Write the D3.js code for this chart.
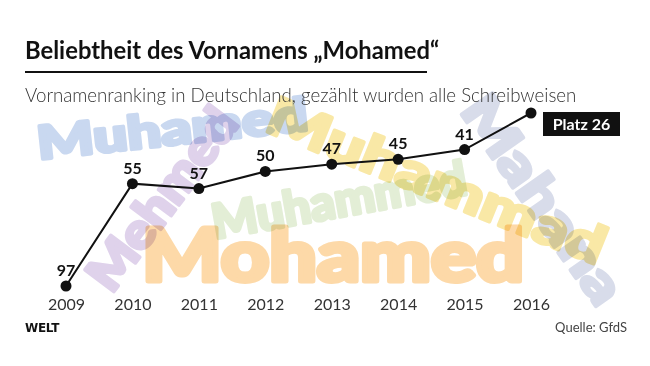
<!DOCTYPE html>
<html><head><meta charset="utf-8">
<script src="https://cdn.jsdelivr.net/npm/d3@7/dist/d3.min.js"></script>
<style>
html,body{margin:0;padding:0;background:#fff;}
svg{display:block;}
</style></head>
<body>
<script>
const years = [2009, 2010, 2011, 2012, 2013, 2014, 2015, 2016];
const ranks = [97, 55, 57, 50, 47, 45, 41, 26];
const labels = ["97", "55", "57", "50", "47", "45", "41", "Platz 26"];
const bgWords = ["Muhamed", "Mehmed", "Muhammad", "Muhammed", "Mahana", "Mohamed"];

const W = 650, H = 366;
const svg = d3.select("body").append("svg").attr("width", W).attr("height", H);

// decorative background words (position/style)
const wordStyle = [
  {x: 37, y: 143, a: -6.2, fs: 46, len: 272, c: "#c9d8f0", sw: 3.5},
  {x: 97, y: 284, a: -53, fs: 50, len: 214, c: "#dfd2eb", sw: 3.5},
  {x: 270, y: 113, a: 22, fs: 52, len: 360, c: "#f9e8a6", sw: 3.5},
  {x: 212, y: 222, a: -10, fs: 48, len: 258, c: "#e3eed6", sw: 3.5},
  {x: 474, y: 100, a: 55, fs: 52, len: 242, c: "#d8dcea", sw: 3.5},
  {x: 142, y: 255, a: 0, fs: 73, len: 382, c: "#fdd9a8", sw: 5}
];
const bg = svg.append("g");
bgWords.forEach((w, i) => {
  const s = wordStyle[i];
  bg.append("text")
    .attr("transform", `translate(${s.x},${s.y}) rotate(${s.a})`)
    .attr("x", 0).attr("y", s.fs * 0.36)
    .attr("font-family", "Lato, 'Open Sans', sans-serif")
    .attr("font-weight", 900)
    .attr("font-size", s.fs)
    .attr("textLength", s.len)
    .attr("lengthAdjust", "spacingAndGlyphs")
    .attr("fill", s.c)
    .attr("stroke", s.c).attr("stroke-width", s.sw).attr("stroke-linejoin", "round")
    .style("mix-blend-mode", "multiply")
    .text(w);
});

// title
svg.append("text").attr("x", 25).attr("y", 59)
  .attr("font-family", "Lato, sans-serif").attr("font-weight", 700)
  .attr("font-size", 23.8).attr("fill", "#111")
  .text("Beliebtheit des Vornamens „Mohamed“");
svg.append("rect").attr("x", 25).attr("y", 71).attr("width", 402).attr("height", 2).attr("fill", "#111");
svg.append("text").attr("x", 25).attr("y", 102)
  .attr("font-family", "Lato, sans-serif").attr("font-weight", 300)
  .attr("font-size", 18.7).attr("fill", "#333")
  .text("Vornamenranking in Deutschland, gezählt wurden alle Schreibweisen");

const x = d3.scalePoint().domain(years).range([66, 531]);
const y = d3.scaleLinear().domain([26, 97]).range([113, 286]);

const data = years.map((yr, i) => ({yr, r: ranks[i], l: labels[i]}));

// x axis labels
const xAxis = d3.axisBottom(x).tickSize(0).tickPadding(0);
const ax = svg.append("g").attr("transform", "translate(0,305)").call(xAxis);
ax.select(".domain").remove();
ax.selectAll("text").attr("font-family", "Lato, sans-serif").attr("font-size", 16)
  .attr("font-weight", 400)
  .attr("fill", "#333").attr("dy", "0.71em").attr("y", -6);

// line
svg.append("path").datum(data)
  .attr("d", d3.line().x(d => x(d.yr)).y(d => y(d.r)))
  .attr("fill", "none").attr("stroke", "#111").attr("stroke-width", 2);

svg.selectAll("circle.pt").data(data).join("circle")
  .attr("cx", d => x(d.yr)).attr("cy", d => y(d.r)).attr("r", 5.5).attr("fill", "#111");

// value labels
svg.selectAll("text.val").data(data.slice(0, -1)).join("text")
  .attr("class", "val")
  .attr("x", d => x(d.yr)).attr("y", d => y(d.r) - 10)
  .attr("text-anchor", "middle")
  .attr("font-family", "Lato, sans-serif").attr("font-weight", 700)
  .attr("font-size", 16).attr("fill", "#111")
  .text(d => d.l);

// last label box
const last = data[data.length - 1];
svg.append("rect").attr("x", x(last.yr) + 12).attr("y", y(last.r) - 1)
  .attr("width", 77).attr("height", 24).attr("fill", "#111");
svg.append("text").attr("x", x(last.yr) + 50.5).attr("y", y(last.r) + 16.5)
  .attr("text-anchor", "middle")
  .attr("font-family", "Lato, sans-serif").attr("font-weight", 700)
  .attr("font-size", 16).attr("fill", "#fff")
  .text(last.l);

// footer
svg.append("text").attr("x", 25).attr("y", 332)
  .attr("font-family", "'DejaVu Sans', sans-serif").attr("font-weight", 700)
  .attr("font-size", 12).attr("fill", "#111").attr("letter-spacing", "-0.3")
  .text("WELT");
svg.append("text").attr("x", 627).attr("y", 332).attr("text-anchor", "end")
  .attr("font-family", "Lato, sans-serif").attr("font-size", 13).attr("fill", "#444")
  .text("Quelle: GfdS");
</script>
</body></html>
